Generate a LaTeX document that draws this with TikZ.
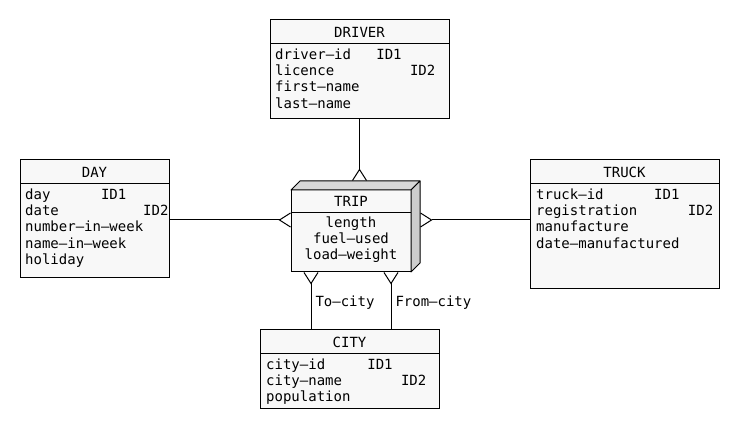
\documentclass[tikz,border=0pt]{standalone}
\usepackage{fontspec}
\setmainfont{DejaVu Sans Mono}
\usetikzlibrary{arrows.meta}
\definecolor{boxfill}{HTML}{F8F8F8}
\definecolor{topface}{HTML}{D8D8D8}
\definecolor{sideface}{HTML}{CDCDCD}
\tikzset{
  entity/.style={draw, fill=boxfill, line width=1pt, inner sep=0pt, outer sep=0pt, anchor=north west},
  etitle/.style={anchor=base, inner sep=0pt},
  attrs/.style={anchor=north west, align=left, inner sep=0pt},
  rel/.style={line width=1pt, -{Straight Barb[reversed, length=11pt, width=14pt]}},
  rolename/.style={right, inner sep=4pt, yshift=-2pt}
}
\begin{document}
\begin{tikzpicture}[x=1pt, y=-1pt, font=\fontsize{14}{16.3}\selectfont]
    \useasboundingbox (0,0) rectangle (740,430);
    \node[entity, minimum width=179pt, minimum height=99pt] (driver) at (270,20) {};
    \node[entity, minimum width=149pt, minimum height=118pt] (day) at (20,160) {};
    \node[entity, minimum width=189pt, minimum height=129pt] (truck) at (530,160) {};
    \node[entity, minimum width=179pt, minimum height=79pt] (city) at (260,330) {};
    \foreach \e in {driver,day,truck,city} \draw[line width=1pt] ([yshift=-24pt]\e.north west) -- ([yshift=-24pt]\e.north east);
    \node[etitle] at ([yshift=-18pt]driver.north) {DRIVER};
    \node[etitle] at ([yshift=-18pt]day.north) {DAY};
    \node[etitle] at ([yshift=-18pt]truck.north) {TRUCK};
    \node[etitle] at ([yshift=-18pt]city.north) {CITY};
    \node[attrs] at ([xshift=5pt,yshift=-28.4pt]driver.north west) {driver–id~~~ID1\\licence~~~~~~~~~ID2\\first–name\\last–name};
    \node[attrs] at ([xshift=5pt,yshift=-28.4pt]day.north west) {day~~~~~~ID1\\date~~~~~~~~~~ID2\\number–in–week\\name–in–week\\holiday};
    \node[attrs] at ([xshift=6pt,yshift=-28.4pt]truck.north west) {truck–id~~~~~~ID1\\registration~~~~~~ID2\\manufacture\\date–manufactured};
    \node[attrs] at ([xshift=6pt,yshift=-28.4pt]city.north west) {city–id~~~~~ID1\\city–name~~~~~~~ID2\\population};
    % the trip box, drawn as a block
    \node[entity, minimum width=120pt, minimum height=82pt] (trip) at (291,190) {};
    \filldraw[fill=topface, line width=1pt, line join=round] (trip.north west) -- ++(9,-9) -- ([xshift=9pt,yshift=9pt]trip.north east) -- (trip.north east) -- cycle;
    \filldraw[fill=sideface, line width=1pt, line join=round] (trip.north east) -- ++(9,-9) -- ([xshift=9pt,yshift=9pt]trip.south east) -- (trip.south east) -- cycle;
    \draw[line width=1pt] ([yshift=-23pt]trip.north west) -- ([yshift=-23pt]trip.north east);
    \node[etitle] at ([yshift=-17pt]trip.north) {TRIP};
    \node[anchor=north, align=center, inner sep=0pt] at ([yshift=-26.4pt]trip.north) {length\\fuel–used\\load–weight};
    \coordinate (trip-top) at ([xshift=9pt,yshift=9pt]trip.north);
    \coordinate (trip-w) at ([yshift=11pt]trip.west);
    \coordinate (trip-e) at ([xshift=9pt,yshift=11pt]trip.east);
    \coordinate (trip-to) at ([xshift=-40pt]trip.south);
    \coordinate (trip-from) at ([xshift=40pt]trip.south);
    \draw[rel] (driver) -- (driver.south |- trip-top);
    \draw[rel] (day.east |- trip-w) -- (trip-w);
    \draw[rel] (truck.west |- trip-e) -- (trip-e);
    \draw[rel] (city.north -| trip-to) -- node[rolename] {To–city} (trip-to);
    \draw[rel] (city.north -| trip-from) -- node[rolename] {From–city} (trip-from);
\end{tikzpicture}
\end{document}
